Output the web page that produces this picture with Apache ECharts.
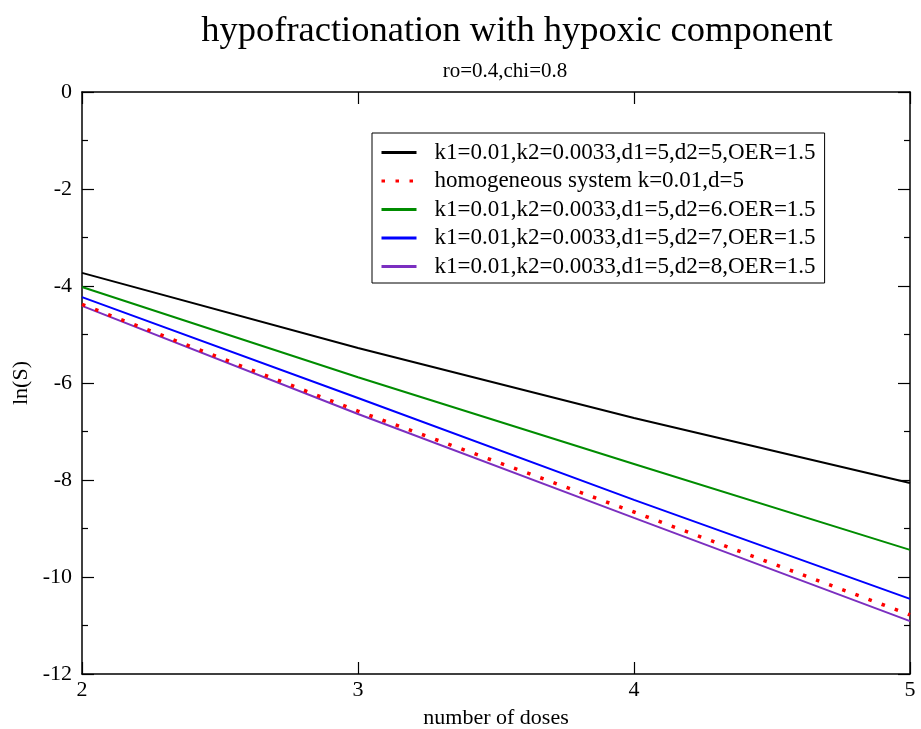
<!DOCTYPE html>
<html><head><meta charset="utf-8">
<script src="https://cdn.jsdelivr.net/npm/echarts@6/dist/echarts.min.js"></script>
<style>html,body{margin:0;padding:0;background:#fff}#c{width:921px;height:729px}</style>
</head><body><div id="c"></div>
<script>
const xDoses = [2, 3, 4, 5];
const names = [
  'k1=0.01,k2=0.0033,d1=5,d2=5,OER=1.5',
  'homogeneous system k=0.01,d=5',
  'k1=0.01,k2=0.0033,d1=5,d2=6.OER=1.5',
  'k1=0.01,k2=0.0033,d1=5,d2=7,OER=1.5',
  'k1=0.01,k2=0.0033,d1=5,d2=8,OER=1.5'
];
const sD2_5 = [-3.73, -5.28, -6.72, -8.06];
const sHomog = [-4.38, -6.58, -8.66, -10.78];
const sD2_6 = [-4.02, -5.88, -7.67, -9.44];
const sD2_7 = [-4.23, -6.31, -8.41, -10.45];
const sD2_8 = [-4.41, -6.64, -8.78, -10.91];
const colors = ['#000000', '#ff0000', '#008c00', '#0000ff', '#7b2fc0'];
const seriesData = [sD2_5, sHomog, sD2_6, sD2_7, sD2_8];

const font = 'Liberation Serif, Times New Roman, serif';
const chart = echarts.init(document.getElementById('c'), null, {renderer: 'canvas'});
const series = seriesData.map((arr, i) => ({
  name: names[i],
  type: 'line',
  data: arr.map((v, j) => [xDoses[j], v]),
  showSymbol: false,
  symbol: 'none',
  lineStyle: i === 1
    ? {color: colors[i], width: 3.5, type: [3.5, 10.5], cap: 'butt'}
    : {color: colors[i], width: 2},
  itemStyle: {color: colors[i]},
  z: i === 1 ? 5 : 3,
  animation: false
}));
const tick = {show: true, inside: true, length: 12, lineStyle: {color: '#000', width: 1.2}};
const minor = {show: true, splitNumber: 2, length: 6, lineStyle: {color: '#000', width: 1.2}};
const line = {show: true, onZero: false, lineStyle: {color: '#000', width: 1.5}};
chart.setOption({
  backgroundColor: '#fff',
  animation: false,
  title: [
    {text: 'hypofractionation with hypoxic component', left: 512, textAlign: 'center', top: 8,
     textStyle: {fontFamily: font, fontSize: 36.5, fontWeight: 'normal', color: '#000'}},
    {text: 'ro=0.4,chi=0.8', left: 500, textAlign: 'center', top: 56,
     textStyle: {fontFamily: font, fontSize: 21, fontWeight: 'normal', color: '#000'}}
  ],
  legend: {
    show: true, orient: 'vertical', left: 372, top: 133,
    padding: [8, 9, 5, 8], itemGap: 5.5, itemWidth: 35, itemHeight: 14,
    backgroundColor: '#fff', borderColor: '#000', borderWidth: 1, borderRadius: 0,
    itemStyle: {opacity: 0},
    lineStyle: {width: 3},
    textStyle: {fontFamily: font, fontSize: 23, lineHeight: 23, color: '#000', padding: [0, 0, 0, 13]},
    data: names
  },
  grid: {left: 82, right: 11, top: 92, bottom: 55, containLabel: false, outerBoundsMode: 'none'},
  xAxis: [
    {
      type: 'value', min: 2, max: 5, interval: 1, position: 'bottom',
      axisLine: line, splitLine: {show: false}, axisTick: tick,
      name: 'number of doses', nameLocation: 'middle', nameGap: 33,
      nameTextStyle: {fontFamily: font, fontSize: 22, color: '#000'},
      axisLabel: {fontFamily: font, fontSize: 22, color: '#000', margin: 5}
    },
    {
      type: 'value', min: 2, max: 5, interval: 1, position: 'top',
      axisLine: line, splitLine: {show: false}, axisTick: tick,
      axisLabel: {show: false}
    }
  ],
  yAxis: [
    {
      type: 'value', min: -12, max: 0, interval: 2, position: 'left',
      axisLine: line, splitLine: {show: false}, axisTick: tick, minorTick: minor,
      name: 'ln(S)', nameLocation: 'middle', nameGap: 50, nameRotate: 90,
      nameTextStyle: {fontFamily: font, fontSize: 22, color: '#000'},
      axisLabel: {fontFamily: font, fontSize: 22, color: '#000', margin: 10}
    },
    {
      type: 'value', min: -12, max: 0, interval: 2, position: 'right',
      axisLine: line, splitLine: {show: false}, axisTick: tick, minorTick: minor,
      axisLabel: {show: false}
    }
  ],
  series: series
});
</script></body></html>
